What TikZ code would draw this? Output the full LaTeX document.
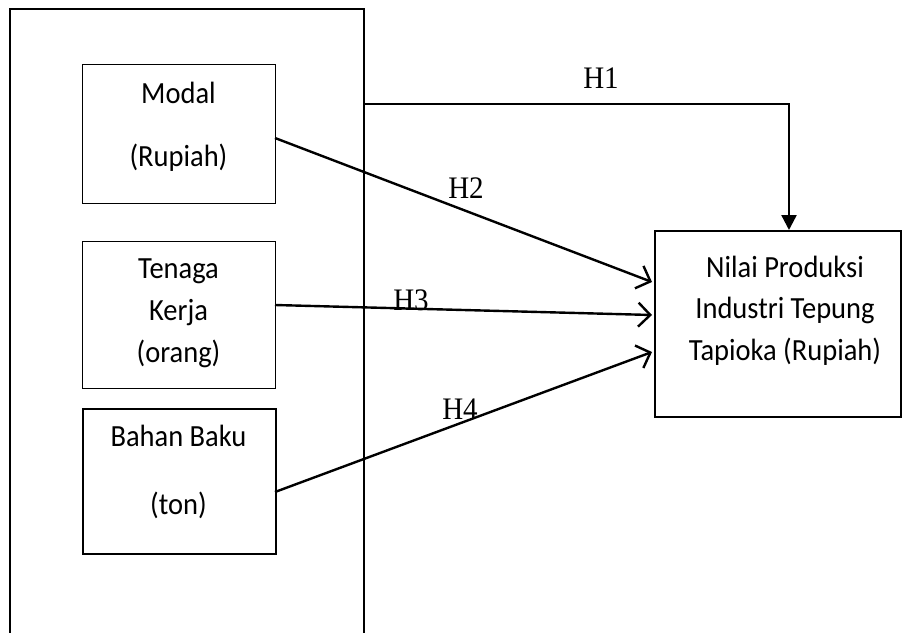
\documentclass[tikz,border=0pt]{standalone}
\usepackage{fontspec}
\newfontfamily\boxfont{Carlito}
\newfontfamily\hfont{Liberation Serif}
\usetikzlibrary{arrows.meta}
\newcommand{\vstr}[1]{\scalebox{1}[1.08]{#1}}
\tikzset{
  frame/.style={draw=black, line width=#1, inner sep=0pt, fill=none},
  boxtext/.style={anchor=base, inner sep=0pt, font=\boxfont\fontsize{28.5}{34}\selectfont},
  hlabel/.style={anchor=base, inner sep=0pt, font=\hfont\fontsize{29}{34}\selectfont},
  conn/.style={line width=2.4pt, -{Straight Barb[length=12pt,width=24pt,line width=2.4pt]}},
  h1conn/.style={line width=2.4pt, -{Triangle[length=15pt,width=15pt]}}
}
\begin{document}
\begin{tikzpicture}[x=1pt,y=-1pt]
\useasboundingbox (0,0) rectangle (902,632);
\fill[white] (0,0) rectangle (902,632);
\clip (0,0) rectangle (902,632);
% outer frame
\node[frame=2pt, minimum width=354pt, minimum height=680pt, anchor=north west] (outer) at (9,8) {};
% input boxes
\node[frame=1.2pt, minimum width=193pt, minimum height=139pt, anchor=north west] (modal) at (82,64) {};
\node[frame=1.2pt, minimum width=193pt, minimum height=147pt, anchor=north west] (tenaga) at (82,241) {};
\node[frame=2pt, minimum width=193pt, minimum height=145pt, anchor=north west] (bahan) at (82,408) {};
% target box
\node[frame=1.5pt, minimum width=246pt, minimum height=186pt, anchor=north west] (nilai) at (654,230) {};
% texts
\node[boxtext] (t1) at (178.5,103) {\vstr{Modal}};
\node[boxtext] (t2) at (178.5,166) {\vstr{(Rupiah)}};
\node[boxtext] (t3) at (178.5,278) {\vstr{Tenaga}};
\node[boxtext] (t4) at (178.5,320) {\vstr{Kerja}};
\node[boxtext] (t5) at (178.5,362) {\vstr{(orang)}};
\node[boxtext] (t6) at (178.5,446) {\vstr{Bahan Baku}};
\node[boxtext] (t7) at (178.5,514) {\vstr{(ton)}};
\node[boxtext] (t8) at (785,277) {\vstr{Nilai Produksi}};
\node[boxtext] (t9) at (785,318.5) {\vstr{Industri Tepung}};
\node[boxtext] (t10) at (785,360) {\vstr{Tapioka (Rupiah)}};
% connector endpoints
\coordinate (ms) at (275,138);
\coordinate (ts) at (275,305);
\coordinate (bs) at (275,492);
\coordinate (me) at (652,282);
\coordinate (te) at (652,315);
\coordinate (be) at (652,352);
\coordinate (h1s) at (363,104);
\coordinate (h1e) at (789,230);
% connectors
\draw[conn] (ms) -- (me);
\draw[conn] (ts) -- (te);
\draw[conn] (bs) -- (be);
\draw[h1conn] (h1s) -| (h1e);
% labels
\node[hlabel] (H1) at (601,88) {\vstr{H1}};
\node[hlabel] (H2) at (466,198) {\vstr{H2}};
\node[hlabel] (H3) at (411,310) {\vstr{H3}};
\node[hlabel] (H4) at (460,419) {\vstr{H4}};
\end{tikzpicture}
\end{document}
